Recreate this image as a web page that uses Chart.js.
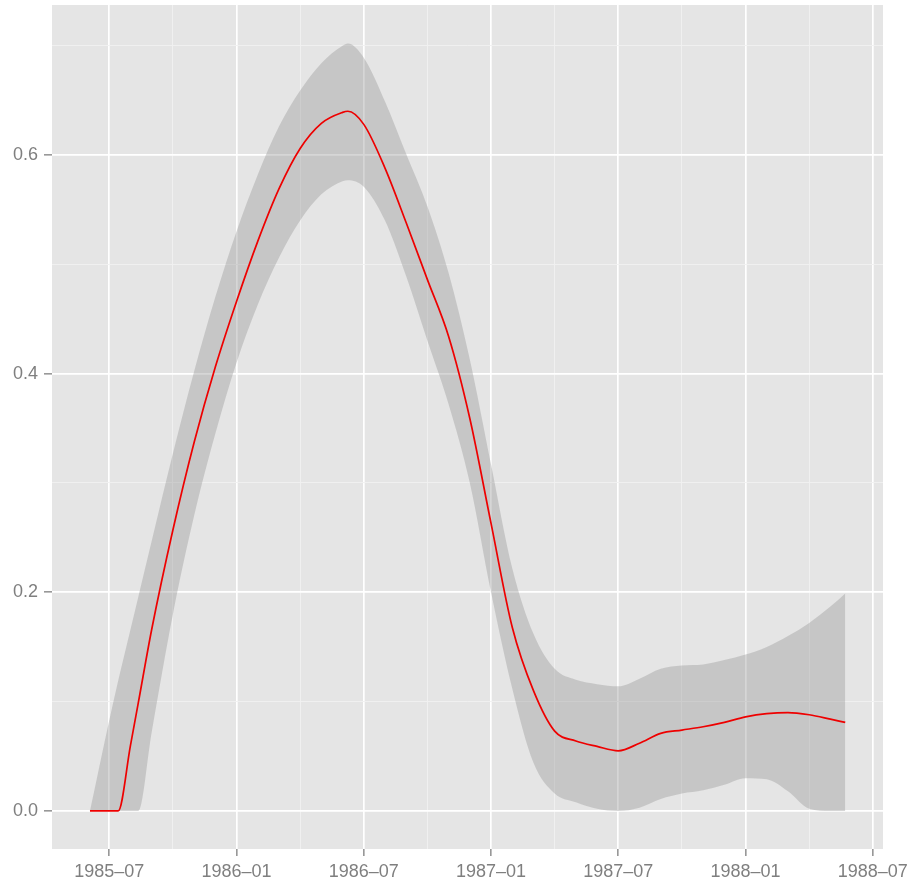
<!DOCTYPE html>
<html>
<head>
<meta charset="utf-8">
<script src="https://cdn.jsdelivr.net/npm/chart.js@4/dist/chart.umd.min.js"></script>
<style>
  html, body { margin: 0; padding: 0; background: #ffffff; }
  #wrap { width: 912px; height: 882px; }
</style>
</head>
<body>
<div id="wrap"><canvas id="smoothChart"></canvas></div>
<script>
// x values are months counted from 1985-07
const months = [-0.91, 0, 0.42, 1, 1.37, 2, 3, 4, 5, 6, 7, 8, 9, 10, 11, 11.25, 12, 13, 14, 15,
  16, 17, 18, 19, 20, 21, 22, 23, 24, 25, 26, 27, 28, 29, 30, 31, 32, 33, 34, 34.7];

// smoothed fit (red line)
const fit = [0, 0, 0, 0.060, 0.099, 0.166, 0.257, 0.337, 0.406, 0.466, 0.521, 0.569, 0.606, 0.629, 0.639, 0.640, 0.628, 0.588, 0.538, 0.486,
  0.434, 0.359, 0.263, 0.168, 0.110, 0.073, 0.064, 0.059, 0.055, 0.062, 0.071, 0.074, 0.077, 0.081, 0.086, 0.089, 0.090, 0.088, 0.084, 0.081];

// confidence band
const upper = [0, 0.083, 0.119, 0.166, 0.196, 0.247, 0.327, 0.402, 0.470, 0.530, 0.582, 0.626, 0.659, 0.684, 0.700, 0.702, 0.689, 0.649, 0.601, 0.553,
  0.492, 0.413, 0.317, 0.222, 0.162, 0.130, 0.120, 0.116, 0.114, 0.121, 0.130, 0.133, 0.134, 0.138, 0.143, 0.150, 0.160, 0.172, 0.187, 0.199];
const lower = [0, 0, 0, 0, 0, 0.072, 0.180, 0.270, 0.345, 0.410, 0.463, 0.506, 0.540, 0.564, 0.576, 0.577, 0.571, 0.540, 0.489, 0.430,
  0.372, 0.300, 0.200, 0.112, 0.044, 0.016, 0.008, 0.002, 0, 0.003, 0.011, 0.016, 0.019, 0.024, 0.030, 0.029, 0.018, 0.002, 0, 0];

// axis ticks
const xTicks = [0, 6, 12, 18, 24, 30, 36];
const xTickLabels = ["1985–07", "1986–01", "1986–07", "1987–01", "1987–07", "1988–01", "1988–07"];
const xMinor = [3, 9, 15, 21, 27, 33];
const yTicks = [0, 0.2, 0.4, 0.6];
const yTickLabels = ["0.0", "0.2", "0.4", "0.6"];
const yMinor = [0.1, 0.3, 0.5, 0.7];

const toPoints = (ys) => months.map((m, i) => ({ x: m, y: ys[i] }));

const isMajor = (list, ctx) => ctx.tick && list.includes(ctx.tick.value);

// grey panel behind the grid
const panelBg = {
  id: "panelBg",
  beforeDraw(chart) {
    const { ctx, chartArea: a } = chart;
    ctx.save();
    ctx.fillStyle = "#e5e5e5";
    ctx.fillRect(a.left, a.top, a.right - a.left, a.bottom - a.top);
    ctx.restore();
  },
};

const tickFont = { size: 18, family: "'Liberation Sans', Arial, sans-serif" };

function gridFor(majors) {
  return {
    color: (ctx) => (isMajor(majors, ctx) ? "#ffffff" : "#f0f0f0"),
    lineWidth: (ctx) => (isMajor(majors, ctx) ? 1.7 : 0.9),
    tickColor: (ctx) => (isMajor(majors, ctx) ? "#7f7f7f" : "rgba(0,0,0,0)"),
    tickWidth: 1.3,
    drawTicks: true,
  };
}

// keep the panel edges where the axes put them, without label overhang padding
function noOverhang(scale) {
  scale.paddingTop = 0;
  scale.paddingBottom = 0;
  scale.paddingLeft = 0;
  scale.paddingRight = 0;
}

new Chart(document.getElementById("smoothChart"), {
  type: "line",
  data: {
    datasets: [
      {
        label: "fit",
        data: toPoints(fit),
        borderColor: "#ee0000",
        borderWidth: 1.7,
        pointRadius: 0,
        cubicInterpolationMode: "monotone",
        fill: false,
      },
      {
        label: "lower",
        data: toPoints(lower),
        borderWidth: 0,
        borderColor: "rgba(0,0,0,0)",
        pointRadius: 0,
        cubicInterpolationMode: "monotone",
        fill: false,
      },
      {
        label: "upper",
        data: toPoints(upper),
        borderWidth: 0,
        borderColor: "rgba(0,0,0,0)",
        backgroundColor: "rgba(153, 153, 153, 0.4)",
        pointRadius: 0,
        cubicInterpolationMode: "monotone",
        fill: 1,
      },
    ],
  },
  options: {
    animation: false,
    responsive: true,
    maintainAspectRatio: false,
    layout: { padding: { top: 5, right: 29, left: 0, bottom: 0 } },
    plugins: {
      legend: { display: false },
      tooltip: { enabled: false },
    },
    scales: {
      x: {
        type: "linear",
        min: -2.70,
        max: 36.48,
        border: { display: false },
        grid: { ...gridFor(xTicks), tickLength: 7 },
        afterBuildTicks: (scale) => {
          scale.ticks = [...xTicks, ...xMinor].sort((a, b) => a - b).map((v) => ({ value: v }));
        },
        afterFit: (scale) => {
          scale.height = 33;
          noOverhang(scale);
        },
        ticks: {
          autoSkip: false,
          maxRotation: 0,
          padding: 5,
          color: "#7f7f7f",
          font: tickFont,
          callback: (value) => {
            const i = xTicks.indexOf(value);
            return i >= 0 ? xTickLabels[i] : "";
          },
        },
      },
      y: {
        type: "linear",
        min: -0.0348,
        max: 0.7372,
        border: { display: false },
        grid: { ...gridFor(yTicks), tickLength: 8 },
        afterBuildTicks: (scale) => {
          scale.ticks = [...yTicks, ...yMinor].sort((a, b) => a - b).map((v) => ({ value: v }));
        },
        afterFit: (scale) => {
          scale.width = 52;
          noOverhang(scale);
        },
        ticks: {
          autoSkip: false,
          padding: 6,
          color: "#7f7f7f",
          font: tickFont,
          callback: (value) => {
            const i = yTicks.indexOf(value);
            return i >= 0 ? yTickLabels[i] : "";
          },
        },
      },
    },
  },
  plugins: [panelBg],
});
</script>
</body>
</html>
